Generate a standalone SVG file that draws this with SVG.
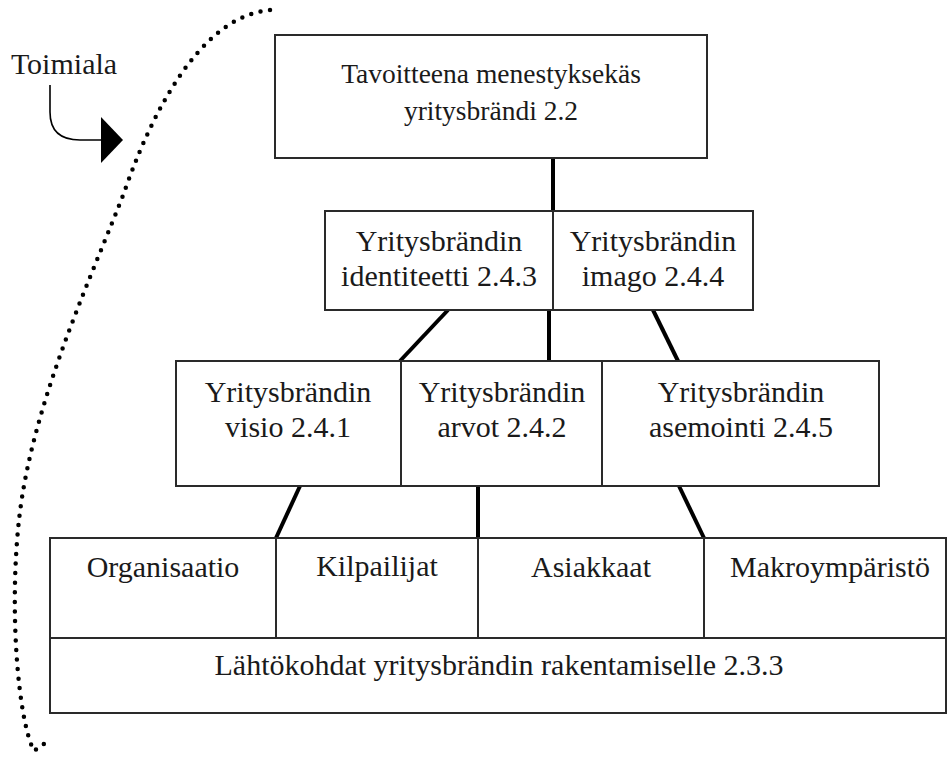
<svg xmlns="http://www.w3.org/2000/svg" width="948" height="757" viewBox="0 0 948 757">
  <style>
    .box { fill: #fff; stroke: #2a2a2a; stroke-width: 2; }
    .lbl { font-family: "Liberation Serif", Tinos, "Times New Roman", Times, "DejaVu Serif", serif; font-size: 30px; fill: #1a1a1a; text-anchor: middle; }
    .lbl.top { font-size: 27.5px; }
    .link { stroke: #000; stroke-width: 4; fill: none; }
  </style>
  <defs>
    <marker id="tri" viewBox="0 0 22 46" refX="2" refY="23" markerWidth="22" markerHeight="46" markerUnits="userSpaceOnUse" orient="auto">
      <path d="M0,0 L22,23 L0,46 Z" fill="#000"/>
    </marker>
  </defs>

  <rect width="948" height="757" fill="#fff"/>

  <!-- industry boundary: dotted arc on the left -->
  <path d="M270,10 C210,15 160,90 125,190 C97,265 32,400 19,520 C9,610 18,720 34,751 L51,739" fill="none" stroke="#000" stroke-width="4.5" stroke-linecap="round" stroke-dasharray="0 9.6"/>

  <g id="toimiala">
    <text class="lbl" x="64" y="74">Toimiala</text>
    <path d="M50,85 L50,112 Q50,140 80,140 L103,140" fill="none" stroke="#000" stroke-width="1.6" marker-end="url(#tri)"/>
  </g>

  <g id="connectors">
    <line class="link" x1="553" y1="158" x2="553" y2="211"/>
    <line class="link" x1="448" y1="310" x2="400" y2="361"/>
    <line class="link" x1="549" y1="310" x2="549" y2="361"/>
    <line class="link" x1="653" y1="310" x2="678" y2="361"/>
    <line class="link" x1="300" y1="486" x2="276" y2="538"/>
    <line class="link" x1="478" y1="486" x2="478" y2="538"/>
    <line class="link" x1="679" y1="486" x2="704" y2="538"/>
  </g>

  <g id="tavoite">
    <rect class="box" x="275" y="35" width="432" height="123"/>
    <text class="lbl top" x="491" y="83">Tavoitteena menestyksekäs</text>
    <text class="lbl top" x="491" y="120">yritysbrändi 2.2</text>
  </g>

  <g id="identiteetti">
    <rect class="box" x="325" y="211" width="228" height="99"/>
    <text class="lbl" x="439" y="251">Yritysbrändin</text>
    <text class="lbl" x="439" y="286">identiteetti 2.4.3</text>
  </g>

  <g id="imago">
    <rect class="box" x="553" y="211" width="200" height="99"/>
    <text class="lbl" x="653" y="251">Yritysbrändin</text>
    <text class="lbl" x="653" y="286">imago 2.4.4</text>
  </g>

  <g id="visio">
    <rect class="box" x="176" y="361" width="225" height="125"/>
    <text class="lbl" x="288" y="402">Yritysbrändin</text>
    <text class="lbl" x="288" y="437">visio 2.4.1</text>
  </g>

  <g id="arvot">
    <rect class="box" x="401" y="361" width="201" height="125"/>
    <text class="lbl" x="502" y="402">Yritysbrändin</text>
    <text class="lbl" x="502" y="437">arvot 2.4.2</text>
  </g>

  <g id="asemointi">
    <rect class="box" x="602" y="361" width="277" height="125"/>
    <text class="lbl" x="741" y="402">Yritysbrändin</text>
    <text class="lbl" x="741" y="437">asemointi 2.4.5</text>
  </g>

  <g id="organisaatio">
    <rect class="box" x="50" y="538" width="226" height="100"/>
    <text class="lbl" x="163" y="577">Organisaatio</text>
  </g>

  <g id="kilpailijat">
    <rect class="box" x="276" y="538" width="202" height="100"/>
    <text class="lbl" x="377" y="576">Kilpailijat</text>
  </g>

  <g id="asiakkaat">
    <rect class="box" x="478" y="538" width="226" height="100"/>
    <text class="lbl" x="591" y="577">Asiakkaat</text>
  </g>

  <g id="makroymparisto">
    <rect class="box" x="704" y="538" width="242" height="100"/>
    <text class="lbl" x="830" y="577">Makroympäristö</text>
  </g>

  <g id="lahtokohdat">
    <rect class="box" x="50" y="638" width="896" height="75"/>
    <text class="lbl" x="499" y="675">Lähtökohdat yritysbrändin rakentamiselle 2.3.3</text>
  </g>
</svg>
